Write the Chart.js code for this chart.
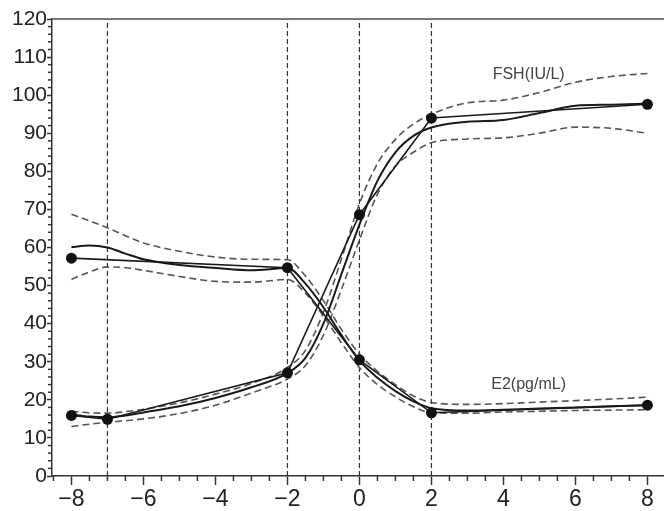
<!DOCTYPE html>
<html>
<head>
<meta charset="utf-8">
<script src="https://cdn.jsdelivr.net/npm/chart.js@4.4.1/dist/chart.umd.min.js"></script>
<style>
  html, body { margin: 0; padding: 0; background: #fff; overflow: hidden; }
  #wrap { width: 664px; height: 511px; }
  canvas { display: block; }
</style>
</head>
<body>
<div id="wrap"><canvas id="myChart" width="664" height="511"></canvas></div>
<script>
// Observed points
const fshX = [-8, -7, -2, 0, 2, 8];
const fshY = [15.9, 14.9, 27.1, 68.6, 94.0, 97.6];
const e2X = [-8, -2, 0, 2, 8];
const e2Y = [57.2, 54.7, 30.5, 16.6, 18.6];

// Fitted curves and bands, read on this x grid
const fitX = [-8, -7.5, -7, -6.5, -6, -5, -4, -3, -2, -1.5, -1, -0.5, 0, 0.5, 1, 1.5, 2, 3, 4, 5, 6, 7, 8];
const fshFit = [16.2, 15.6, 15.4, 15.9, 16.7, 18.3, 20.5, 23.3, 27.0, 31, 40, 53, 66, 77.5, 85, 89.3, 91.5, 93, 93.5, 95.3, 97.2, 97.5, 97.8];
const fshUpper = [17, 16.6, 16.5, 16.9, 17.5, 19.2, 21.5, 24.3, 28.5, 33, 43, 57, 71.5, 82, 88.4, 92.4, 95, 98, 98.7, 100.7, 103.4, 104.9, 105.7];
const fshLower = [13, 13.6, 14.1, 14.5, 15, 16.4, 18.6, 21.8, 25.5, 29, 37, 49, 62, 74, 81.4, 85, 87.5, 88.5, 88.8, 90, 91.6, 91.3, 90];
const e2Fit = [60.1, 60.5, 60.0, 58.4, 56.9, 55.4, 54.6, 54.0, 54.6, 50.5, 44.3, 37, 30.3, 25.8, 22.3, 19.6, 17.8, 17.2, 17.4, 17.7, 18, 18.3, 18.6];
const e2Upper = [68.7, 67, 65.2, 63.1, 61.2, 59, 57.5, 56.9, 56.8, 52.5, 46, 38.5, 32, 27.5, 24, 21, 19.3, 18.8, 19, 19.4, 19.8, 20.2, 20.7];
const e2Lower = [51.6, 53.6, 54.9, 54.7, 54, 52.4, 51.1, 50.9, 51.6, 48, 42, 35, 28.5, 24, 20.8, 18.2, 16.6, 16.5, 16.8, 17, 17.2, 17.3, 17.4];

// Reference lines and tick labels
const vLines = [-7, -2, 0, 2];
const xTicks = [-8, -6, -4, -2, 0, 2, 4, 6, 8];
const yTicks = [0, 10, 20, 30, 40, 50, 60, 70, 80, 90, 100, 110, 120];
const labels = [
  { text: 'FSH(IU/L)', x: 4.7, y: 105.5 },
  { text: 'E2(pg/mL)', x: 4.7, y: 24 },
];

const zip = (xs, ys) => xs.map((x, i) => ({ x: x, y: ys[i] }));
const minus = v => (v < 0 ? '\u2212' + Math.abs(v) : '' + v);

const obsStyle = {
  borderColor: '#1a1a1a',
  borderWidth: 1.6,
  backgroundColor: '#111',
  pointRadius: 5.5,
  pointBackgroundColor: '#111',
  pointBorderWidth: 0,
  tension: 0,
};
const fitStyle = {
  borderColor: '#1a1a1a',
  borderWidth: 2,
  pointRadius: 0,
  cubicInterpolationMode: 'monotone',
};
const bandStyle = {
  borderColor: '#555',
  borderWidth: 1.6,
  borderDash: [7, 4],
  pointRadius: 0,
  cubicInterpolationMode: 'monotone',
};

const datasets = [
  Object.assign({ data: zip(fshX, fshY) }, obsStyle),
  Object.assign({ data: zip(e2X, e2Y) }, obsStyle),
  Object.assign({ data: zip(fitX, fshFit) }, fitStyle),
  Object.assign({ data: zip(fitX, e2Fit) }, fitStyle),
  Object.assign({ data: zip(fitX, fshUpper) }, bandStyle),
  Object.assign({ data: zip(fitX, fshLower) }, bandStyle),
  Object.assign({ data: zip(fitX, e2Upper) }, bandStyle),
  Object.assign({ data: zip(fitX, e2Lower) }, bandStyle),
];
vLines.forEach(v => {
  datasets.push({
    data: [{ x: v, y: 0 }, { x: v, y: 120 }],
    borderColor: '#333',
    borderWidth: 1.2,
    borderDash: [5, 3],
    pointRadius: 0,
  });
});

// minor ticks, top border and text labels
const extras = {
  id: 'extras',
  afterDraw(chart) {
    const ctx = chart.ctx;
    const xs = chart.scales.x;
    const ys = chart.scales.y;
    const area = chart.chartArea;
    ctx.save();
    ctx.strokeStyle = '#333';
    ctx.lineWidth = 1.5;
    for (let v = -8.5; v <= 8.5; v += 0.5) {
      if (v % 2 === 0) continue;
      const px = xs.getPixelForValue(v);
      if (px < area.left || px > area.right) continue;
      ctx.beginPath();
      ctx.moveTo(px, area.bottom);
      ctx.lineTo(px, area.bottom + 5);
      ctx.stroke();
    }
    for (let v = 2; v < 120; v += 2) {
      if (v % 10 === 0) continue;
      const py = ys.getPixelForValue(v);
      ctx.beginPath();
      ctx.moveTo(area.left, py);
      ctx.lineTo(area.left - 4, py);
      ctx.stroke();
    }
    ctx.strokeStyle = '#777';
    ctx.lineWidth = 2;
    ctx.beginPath();
    ctx.moveTo(area.left, area.top);
    ctx.lineTo(area.right, area.top);
    ctx.stroke();

    ctx.fillStyle = '#444';
    ctx.font = '16px "Liberation Sans", Arial, sans-serif';
    ctx.textAlign = 'center';
    ctx.textBaseline = 'middle';
    labels.forEach(l => {
      ctx.fillText(l.text, xs.getPixelForValue(l.x), ys.getPixelForValue(l.y));
    });
    ctx.restore();
  },
};

const config = {
  type: 'line',
  data: { datasets: datasets },
  options: {
    responsive: false,
    animation: false,
    events: [],
    layout: { autoPadding: false, padding: { top: 19, right: 0, left: 0, bottom: 0 } },
    plugins: { legend: { display: false }, tooltip: { enabled: false } },
    scales: {
      x: {
        type: 'linear',
        min: -8.54,
        max: 8.46,
        afterBuildTicks: s => { s.ticks = xTicks.map(v => ({ value: v })); },
        afterFit: s => { s.height = 35; },
        ticks: {
          callback: v => minus(v),
          color: '#222',
          font: { family: '"Liberation Sans", Arial, sans-serif', size: 23 },
          padding: 1,
          maxRotation: 0,
          autoSkip: false,
        },
        grid: { drawOnChartArea: false, drawTicks: true, tickLength: 9, tickColor: '#333', tickWidth: 1.5 },
        border: { color: '#333', width: 1.5 },
      },
      y: {
        type: 'linear',
        min: 0,
        max: 120,
        afterBuildTicks: s => { s.ticks = yTicks.map(v => ({ value: v })); },
        afterFit: s => { s.width = 52; },
        ticks: {
          color: '#222',
          font: { family: '"Liberation Sans", Arial, sans-serif', size: 21 },
          padding: 0,
          autoSkip: false,
        },
        grid: { drawOnChartArea: false, drawTicks: true, tickLength: 5, tickColor: '#333', tickWidth: 1.5 },
        border: { color: '#333', width: 1.5 },
      },
    },
  },
  plugins: [extras],
};

const myChart = new Chart(document.getElementById('myChart'), config);
</script>
</body>
</html>
